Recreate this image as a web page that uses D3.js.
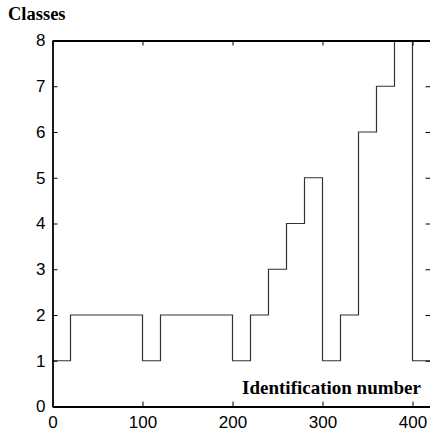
<!DOCTYPE html>
<html>
<head>
<meta charset="utf-8">
<script src="https://cdn.jsdelivr.net/npm/d3@7"></script>
<style>
  html, body { margin: 0; padding: 0; background: #fff; }
  svg { display: block; }
  .tick text { font-family: "Liberation Sans", Arial, Helvetica, sans-serif; font-size: 17px; fill: #000; }
  .title { font-family: "Liberation Serif", "Times New Roman", serif; font-weight: bold; fill: #000; }
</style>
</head>
<body>
<script>
// Start of each identification-number block (width 20) and its class
const idStart = [0, 20, 40, 60, 80, 100, 120, 140, 160, 180, 200, 220, 240, 260, 280, 300, 320, 340, 360, 380, 400];
const classValue = [1, 2, 2, 2, 2, 1, 2, 2, 2, 2, 1, 2, 3, 4, 5, 1, 2, 6, 7, 8, 1];
const idEnd = 420;
const xTicks = [0, 100, 200, 300, 400];
const yTicks = [0, 1, 2, 3, 4, 5, 6, 7, 8];

const W = 430, H = 432;
const plotL = 52.5, plotR = 430.5, plotT = 40.5, plotB = 406.5;

const svg = d3.select("body").append("svg").attr("width", W).attr("height", H);

const x = d3.scaleLinear().domain([0, idEnd]).range([plotL, plotR]);
const y = d3.scaleLinear().domain([0, 8]).range([plotB, plotT]);

// staircase series, holding the last class to the end of the range
const pts = idStart.map((s, i) => [s, classValue[i]]);
pts.push([idEnd, classValue[classValue.length - 1]]);

svg.append("path")
  .datum(pts)
  .attr("fill", "none")
  .attr("stroke", "#333")
  .attr("stroke-width", 1.2)
  .attr("d", d3.line().x(d => x(d[0])).y(d => y(d[1])).curve(d3.curveStepAfter));

// axes with inward ticks
const gB = svg.append("g").attr("transform", `translate(0,${plotB})`)
  .call(d3.axisBottom(x).tickValues(xTicks).tickFormat(d3.format("d")).tickSize(-5).tickSizeOuter(0).tickPadding(9.5));
const gL = svg.append("g").attr("transform", `translate(${plotL},0)`)
  .call(d3.axisLeft(y).tickValues(yTicks).tickFormat(d3.format("d")).tickSize(-5).tickSizeOuter(0).tickPadding(7));
const gT = svg.append("g").attr("transform", `translate(0,${plotT})`)
  .call(d3.axisTop(x).tickValues(xTicks).tickFormat("").tickSize(-5).tickSizeOuter(0));
const gR = svg.append("g").attr("transform", `translate(${plotR},0)`)
  .call(d3.axisRight(y).tickValues(yTicks).tickFormat("").tickSize(-5).tickSizeOuter(0));

[gB, gL, gT, gR].forEach(g => {
  g.select(".domain").attr("stroke", "#000").attr("stroke-width", 1.8);
  g.selectAll(".tick line").attr("stroke", "#000").attr("stroke-width", 1);
});
gB.selectAll("text").attr("dy", "0.71em");

svg.append("text").attr("class", "title")
  .attr("x", 8).attr("y", 20).attr("font-size", 18.5)
  .text("Classes");

svg.append("text").attr("class", "title")
  .attr("x", 421).attr("y", 394).attr("font-size", 19)
  .attr("text-anchor", "end")
  .text("Identification number");
</script>
</body>
</html>
